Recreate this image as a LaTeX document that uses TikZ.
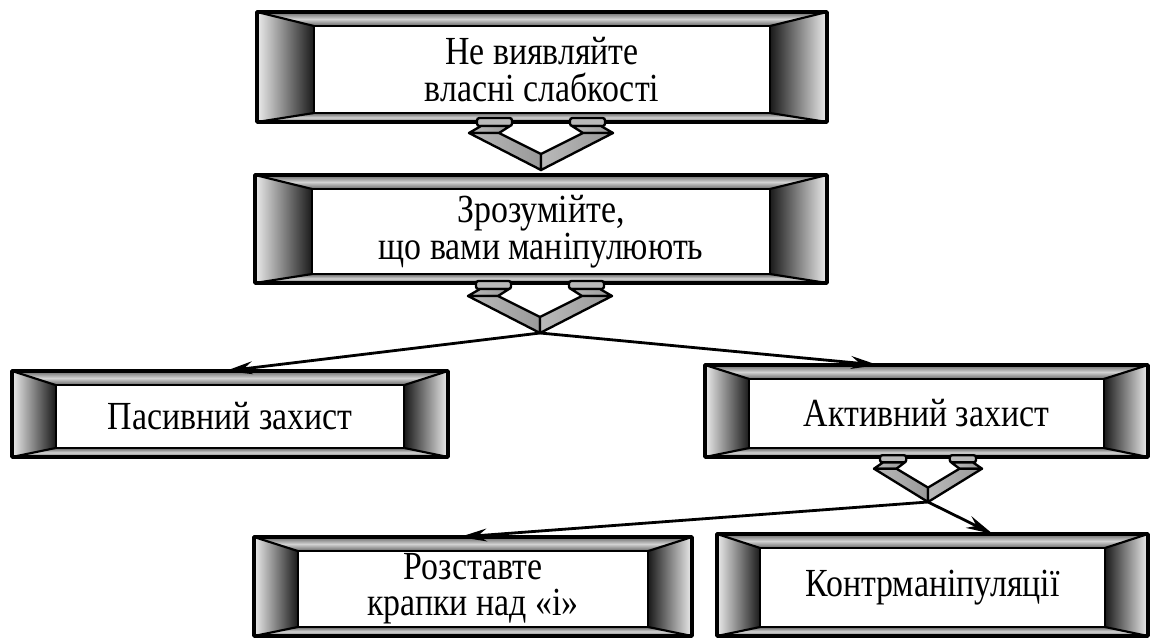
\documentclass[tikz,border=0pt]{standalone}
\usepackage{fontspec}
\setmainfont[FakeStretch=0.85]{Liberation Serif}
\usepackage{tikz}
\usetikzlibrary{arrows.meta,calc}

\newcommand{\bevbox}[6]{%
  \coordinate (#1-nw) at (#2,#3);
  \coordinate (#1-ne) at (#4,#3);
  \coordinate (#1-se) at (#4,#5);
  \coordinate (#1-sw) at (#2,#5);
  \coordinate (#1-inw) at ({#2+0.1*(#4-#2)},{#3+14});
  \coordinate (#1-ine) at ({#4-0.1*(#4-#2)},{#3+14});
  \coordinate (#1-ise) at ({#4-0.1*(#4-#2)},{#5-9});
  \coordinate (#1-isw) at ({#2+0.1*(#4-#2)},{#5-9});
  \shade[topface] (#1-nw) -- (#1-ne) -- (#1-ine) -- (#1-inw) -- cycle;
  \shade[topface] (#1-sw) -- (#1-se) -- (#1-ise) -- (#1-isw) -- cycle;
  \shade[leftface] (#1-nw) -- (#1-inw) -- (#1-isw) -- (#1-sw) -- cycle;
  \shade[rightface] (#1-ne) -- (#1-ine) -- (#1-ise) -- (#1-se) -- cycle;
  \draw[bevline] (#1-nw) -- (#1-inw) (#1-ne) -- (#1-ine)
    (#1-se) -- (#1-ise) (#1-sw) -- (#1-isw);
  \draw[bevline, fill=white] (#1-inw) rectangle (#1-ise);
  \draw[outerline] (#1-nw) rectangle (#1-se);
  \node[boxtext] (#1) at ($(#1-inw)!.5!(#1-ise)$) {#6};
}

\begin{document}
\begin{tikzpicture}[x=0.03cm, y=-0.03cm,
    every node/.style={font=\fontsize{34}{31}\selectfont},
    boxtext/.style={align=center, inner sep=0pt},
    topface/.style={top color=gray!80!black, bottom color=gray!80!black, middle color=gray!35},
    leftface/.style={left color=gray!15, right color=black!90},
    rightface/.style={left color=black!90, right color=gray!15},
    bevline/.style={line width=1.8pt, line join=round},
    outerline/.style={line width=3pt, line join=round},
    armface/.style={left color=gray!55, right color=gray!80, draw=black, line width=2pt, line join=round},
    tabface/.style={fill=gray!55, draw=black, line width=2pt, rounded corners=2pt},
    arr/.style={line width=2.4pt, -{Stealth[length=23pt, width=11pt]}},
    vjoin/.pic={
      \draw[tabface] (-64,-2) rectangle (-29,6);
      \draw[tabface] (29,-2) rectangle (64,6);
      \draw[armface] (-72,13) -- (-60,6) -- (-31,6) -- (-42,13) -- cycle;
      \draw[armface] (72,13) -- (60,6) -- (31,6) -- (42,13) -- cycle;
      \draw[armface] (-72,13) -- (-42,13) -- (0,34) -- (0,50) -- cycle;
      \draw[armface] (72,13) -- (42,13) -- (0,34) -- (0,50) -- cycle;
      \coordinate (-tip) at (0,50);
    }]
  \useasboundingbox (0,0) rectangle (1155,638);

  \bevbox{hide}{257}{12}{827}{122}{Не виявляйте\\власні слабкості}
  \bevbox{see}{255}{175}{827}{283}{Зрозумійте,\\що вами маніпулюють}
  \bevbox{pas}{12}{371}{448}{457}{Пасивний захист}
  \bevbox{act}{705}{365}{1148}{457}{Активний захист}
  \bevbox{dots}{254}{537}{692}{636}{Розставте\\крапки над «і»}
  \bevbox{ctr}{717}{534}{1148}{636}{Контрманіпуляції}

  \pic (v1) at (541,120) {vjoin};
  \pic (v2) at (540,283) {vjoin};
  \pic[xscale=0.75, yscale=0.9] (v3) at (928,457) {vjoin};

  \draw[arr] (v2-tip) -- ($(pas-nw)!0.49!(pas-ne)$);
  \draw[arr] (v2-tip) -- ($(act-nw)!0.39!(act-ne)$);
  \draw[arr] (v3-tip) -- ($(dots-nw)!0.47!(dots-ne)$);
  \draw[arr] (v3-tip) -- ($(ctr-nw)!0.64!(ctr-ne)$);
\end{tikzpicture}
\end{document}
